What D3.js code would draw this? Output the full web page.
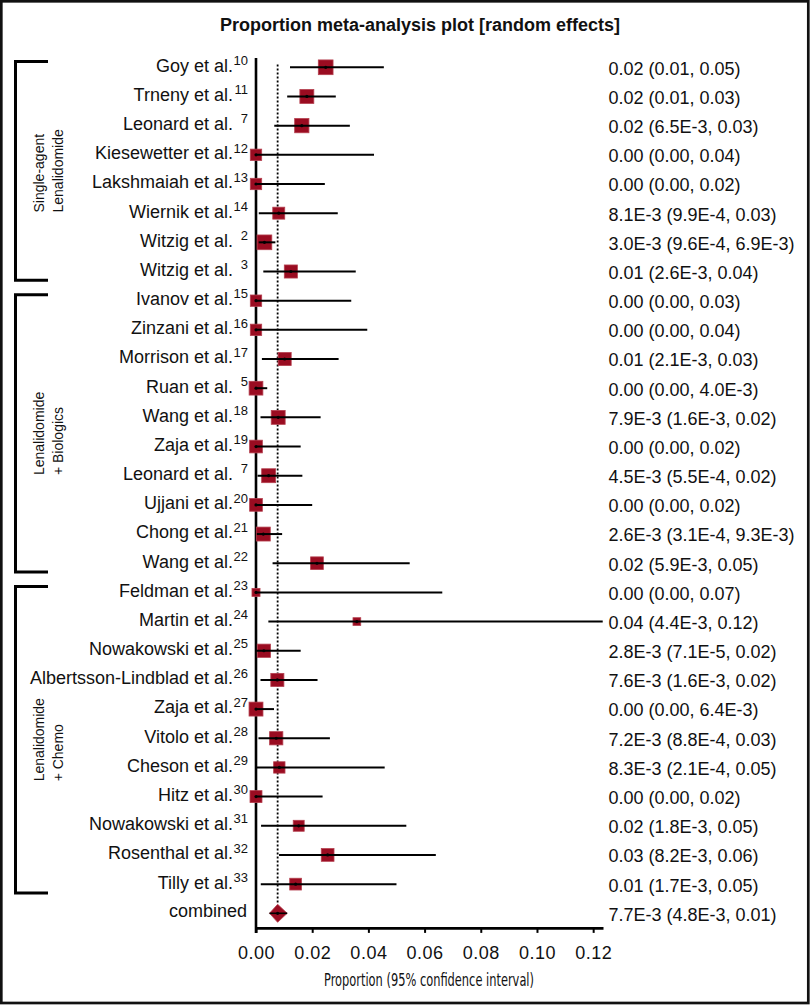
<!DOCTYPE html>
<html><head><meta charset="utf-8">
<script src="https://cdn.jsdelivr.net/npm/d3@7"></script>
<style>body{margin:0;background:#fff}svg{display:block}</style>
</head><body><svg id="c" width="812" height="1005"></svg>
<script>
// ---- data ----
const studies = ["Goy et al.","Trneny et al.","Leonard et al.","Kiesewetter et al.","Lakshmaiah et al.","Wiernik et al.","Witzig et al.","Witzig et al.",
  "Ivanov et al.","Zinzani et al.","Morrison et al.","Ruan et al.","Wang et al.","Zaja et al.","Leonard et al.","Ujjani et al.","Chong et al.","Wang et al.",
  "Feldman et al.","Martin et al.","Nowakowski et al.","Albertsson-Lindblad et al.","Zaja et al.","Vitolo et al.","Cheson et al.","Hitz et al.","Nowakowski et al.","Rosenthal et al.","Tilly et al."];
const refs = ["10","11","7","12","13","14","2","3","15","16","17","5","18","19","7","20","21","22","23","24","25","26","27","28","29","30","31","32","33"];
const estimates = [0.0248,0.0181,0.0163,0,0,0.0081,0.0030,0.0124,0,0,0.0102,0,0.0079,0,0.0045,0,0.0026,0.0217,0,0.0359,0.0028,0.0076,0,0.0072,0.0083,0,0.0152,0.0255,0.0141];
const lower = [0.0121,0.0111,0.0065,0,0,0.00099,0.00096,0.0026,0,0,0.0021,0,0.0016,0,0.00055,0,0.00031,0.0059,0,0.0044,0.000071,0.0016,0,0.00088,0.00021,0,0.0018,0.0082,0.0017];
const upper = [0.0455,0.0284,0.0334,0.0420,0.0245,0.0291,0.0069,0.0355,0.0339,0.0396,0.0294,0.0040,0.0230,0.0159,0.0165,0.0200,0.0093,0.0547,0.0663,0.1234,0.0159,0.0219,0.0064,0.0263,0.0458,0.0237,0.0535,0.0640,0.0500];
const weights = [4.7,4.2,4.4,2.8,2.8,3.1,4.7,3.7,2.8,2.8,3.7,4.1,4.2,3.5,4.2,3.5,4.2,3.5,1.4,1.3,3.8,3.7,4.2,3.8,2.8,3.1,2.6,3.5,3.0];
const ciText = ["0.02 (0.01, 0.05)","0.02 (0.01, 0.03)","0.02 (6.5E-3, 0.03)","0.00 (0.00, 0.04)","0.00 (0.00, 0.02)","8.1E-3 (9.9E-4, 0.03)",
  "3.0E-3 (9.6E-4, 6.9E-3)","0.01 (2.6E-3, 0.04)","0.00 (0.00, 0.03)","0.00 (0.00, 0.04)","0.01 (2.1E-3, 0.03)","0.00 (0.00, 4.0E-3)",
  "7.9E-3 (1.6E-3, 0.02)","0.00 (0.00, 0.02)","4.5E-3 (5.5E-4, 0.02)","0.00 (0.00, 0.02)","2.6E-3 (3.1E-4, 9.3E-3)","0.02 (5.9E-3, 0.05)",
  "0.00 (0.00, 0.07)","0.04 (4.4E-3, 0.12)","2.8E-3 (7.1E-5, 0.02)","7.6E-3 (1.6E-3, 0.02)","0.00 (0.00, 6.4E-3)","7.2E-3 (8.8E-4, 0.03)",
  "8.3E-3 (2.1E-4, 0.05)","0.00 (0.00, 0.02)","0.02 (1.8E-3, 0.05)","0.03 (8.2E-3, 0.06)","0.01 (1.7E-3, 0.05)"];
const pooledLabel = "combined";
const pooledEst = 0.0077, pooledLo = 0.0048, pooledHi = 0.0111;
const pooledText = "7.7E-3 (4.8E-3, 0.01)";
const groupLines = [["Single-agent","Lenalidomide"],["Lenalidomide","+ Biologics"],["Lenalidomide","+ Chemo"]];
const groupFirst = [0,8,18];
const groupLast = [7,17,28];
const xTicks = [0,0.02,0.04,0.06,0.08,0.10,0.12];
const titleText = "Proportion meta-analysis plot [random effects]";
const xTitle = "Proportion (95% confidence interval)";

// ---- layout ----
const W = 812, H = 1005;
const FONT = "'Liberation Sans', Arial, Helvetica, sans-serif";
const NARROW = "'Liberation Sans Narrow', 'Arial Narrow', 'DejaVu Sans Condensed', sans-serif";
const RED = "#9a0c21";
const INK = "#111";

const svg = d3.select("#c");
svg.append("rect").attr("width", W).attr("height", H).attr("fill", "#fff");
svg.append("rect").attr("x", 1.3).attr("y", 1.3).attr("width", 807).attr("height", 1001.7)
  .attr("fill", "none").attr("stroke", "#111").attr("stroke-width", 2.7);

const n = studies.length;
const y = d3.scalePoint().domain(d3.range(n + 1)).range([67.3, 913.3]);
const step = y.step();
const x = d3.scaleLinear().domain([0, 0.1235]).range([256, 603]);
const size = d3.scaleSqrt().domain([0, 5]).range([0, 15.2]);

// title
svg.append("text").attr("x", 420).attr("y", 31).attr("text-anchor", "middle")
  .attr("font-family", FONT).attr("font-weight", "bold").attr("font-size", 18).attr("fill", INK)
  .text(titleText);

// x axis
const axisY = y(n) + step * 0.5;
const gx = svg.append("g").attr("transform", `translate(0,${axisY})`)
  .call(d3.axisBottom(x).tickValues(xTicks).tickFormat(d3.format(".2f")).tickSize(5).tickSizeOuter(0));
gx.attr("font-family", FONT).attr("font-size", 18);
gx.select(".domain").attr("stroke", "#000").attr("stroke-width", 2.6);
gx.selectAll(".tick line").attr("stroke", "#000").attr("stroke-width", 2);
gx.selectAll(".tick text").attr("y", 18).attr("fill", INK).attr("letter-spacing", 0.5);

svg.append("text").attr("x", 429).attr("y", 986).attr("text-anchor", "middle")
  .attr("font-family", NARROW).attr("font-size", 17).attr("fill", INK)
  .attr("textLength", 210).attr("lengthAdjust", "spacingAndGlyphs")
  .text(xTitle);

// y axis line
svg.append("line").attr("x1", x(0)).attr("x2", x(0))
  .attr("y1", y(0) - 0.32 * step).attr("y2", axisY + 5)
  .attr("stroke", "#000").attr("stroke-width", 2.6);

// pooled reference dotted line
svg.append("line").attr("x1", x(pooledEst)).attr("x2", x(pooledEst))
  .attr("y1", y(0) - 0.1 * step).attr("y2", y(n) - 9)
  .attr("stroke", "#000").attr("stroke-width", 1.8).attr("stroke-dasharray", "2,2");

// studies
const rowsData = studies.map((s, i) => ({ i, s, r: refs[i], e: estimates[i], lo: lower[i], hi: upper[i], w: weights[i], t: ciText[i] }));
const g = svg.append("g");
g.selectAll("rect.box").data(rowsData).join("rect").attr("class", "box")
  .attr("x", d => x(d.e) - size(d.w) / 2).attr("y", d => y(d.i) - size(d.w) / 2)
  .attr("width", d => size(d.w)).attr("height", d => size(d.w))
  .attr("fill", RED).attr("stroke", "#b5404f").attr("stroke-width", 0.8);
g.selectAll("line.ci").data(rowsData).join("line").attr("class", "ci")
  .attr("x1", d => x(d.lo)).attr("x2", d => x(d.hi))
  .attr("y1", d => y(d.i)).attr("y2", d => y(d.i))
  .attr("stroke", "#000").attr("stroke-width", 2);
g.selectAll("circle.pt").data(rowsData).join("circle").attr("class", "pt")
  .attr("cx", d => x(d.e)).attr("cy", d => y(d.i)).attr("r", 1.6).attr("fill", "#000");

// study labels
const lab = svg.append("g").attr("font-family", FONT).attr("fill", INK);
lab.selectAll("text.name").data(rowsData).join("text").attr("class", "name")
  .attr("x", x(0) - 23).attr("y", d => y(d.i) + 4.4).attr("text-anchor", "end").attr("font-size", 18)
  .text(d => d.s);
lab.selectAll("text.ref").data(rowsData).join("text").attr("class", "ref")
  .attr("x", x(0) - 8).attr("y", d => y(d.i) - 2.3).attr("text-anchor", "end").attr("font-size", 13)
  .text(d => d.r);
lab.selectAll("text.val").data(rowsData).join("text").attr("class", "val")
  .attr("x", 608.5).attr("y", d => y(d.i) + 7.4).attr("font-size", 18)
  .text(d => d.t);

// pooled row
const py = y(n);
svg.append("path")
  .attr("d", `M${x(pooledLo)},${py}L${x(pooledEst)},${py - 9}L${x(pooledHi)},${py}L${x(pooledEst)},${py + 9}Z`)
  .attr("fill", RED).attr("stroke", "#b5404f").attr("stroke-width", 0.8);
svg.append("line").attr("x1", x(pooledLo)).attr("x2", x(pooledHi)).attr("y1", py).attr("y2", py)
  .attr("stroke", "#000").attr("stroke-width", 1.6);
svg.append("circle").attr("cx", x(pooledEst)).attr("cy", py).attr("r", 1.6).attr("fill", "#000");
lab.append("text").attr("x", x(0) - 9).attr("y", py + 4).attr("text-anchor", "end").attr("font-size", 18).text(pooledLabel);
lab.append("text").attr("x", 608.5).attr("y", py + 7.4).attr("font-size", 18).text(pooledText);

// group brackets and labels
groupLines.forEach((lines, k) => {
  const top = y(groupFirst[k]) - 0.2 * step;
  const bot = y(groupLast[k]) + 0.3 * step;
  svg.append("path").attr("d", `M48,${top}H15.5V${bot}H48`)
    .attr("fill", "none").attr("stroke", "#000").attr("stroke-width", 3);
  const mid = (top + bot) / 2;
  const tg = svg.append("g").attr("font-family", FONT).attr("font-size", 14).attr("fill", INK);
  const texts = lines.map((L, j) => tg.append("text").attr("text-anchor", "start").text(L));
  const maxLen = d3.max(texts, t => t.node().getComputedTextLength());
  texts.forEach((t, j) => t.attr("transform", `translate(${44 + j * 19},${mid + maxLen / 2}) rotate(-90)`));
});
</script>
</body></html>
